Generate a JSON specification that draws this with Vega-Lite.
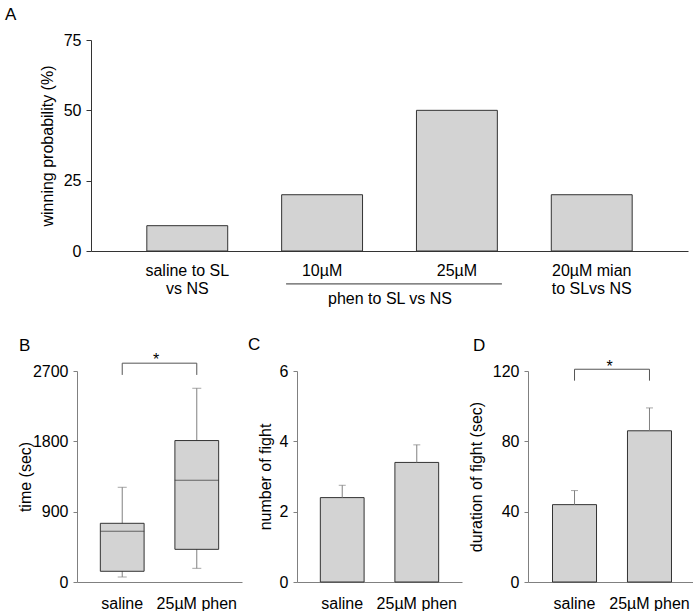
{
  "$schema": "https://vega.github.io/schema/vega-lite/v6.json",
  "padding": {"left": 5, "top": 6, "right": 0, "bottom": 0},
  "spacing": 30,
  "config": {
    "font": "Liberation Sans",
    "view": {"stroke": null},
    "axis": {
      "grid": false,
      "labelFont": "Liberation Sans",
      "titleFont": "Liberation Sans",
      "labelFontSize": 16,
      "titleFontSize": 16,
      "titleFontWeight": "normal",
      "labelColor": "#000",
      "titleColor": "#000",
      "domainColor": "#808080",
      "tickColor": "#808080"
    },
    "title": {
      "font": "Liberation Sans",
      "fontSize": 17,
      "fontWeight": "normal",
      "anchor": "start",
      "frame": "group",
      "baseline": "alphabetic",
      "color": "#000"
    }
  },
  "vconcat": [
    {
      "title": {"text": "A", "dx": -72, "offset": 8},
      "width": 611,
      "height": 211,
      "data": {"values": [
        {"group": "saline to SL vs NS", "win": 9},
        {"group": "10µM", "win": 20},
        {"group": "25µM", "win": 50},
        {"group": "20µM mian to SL vs NS", "win": 20}
      ]},
      "layer": [
        {
          "mark": {"type": "bar", "fill": "#d3d3d3", "stroke": "#333", "strokeWidth": 1},
          "encoding": {
            "x": {
              "field": "group", "type": "nominal",
              "scale": {"domain": ["saline to SL vs NS", "10µM", "25µM", "20µM mian to SL vs NS"], "range": [14, 611], "paddingInner": 0.4, "paddingOuter": 0.414},
              "axis": {
                "title": "phen to SL vs NS",
                "labelAngle": 0, "ticks": false, "labelPadding": 11, "labelLineHeight": 18,
                "labelExpr": "datum.value == 'saline to SL vs NS' ? ['saline to SL', 'vs NS'] : datum.value == '20µM mian to SL vs NS' ? ['20µM mian', 'to SLvs NS'] : datum.value",
                "domainColor": "#333", "titlePadding": -6
              }
            },
            "y": {
              "field": "win", "type": "quantitative",
              "scale": {"domain": [0, 75], "nice": false},
              "axis": {"title": "winning probability (%)", "values": [0, 25, 50, 75], "format": "d", "offset": -14, "tickSize": 5, "labelPadding": 5, "domainColor": "#333", "tickColor": "#333", "titlePadding": 8}
            }
          }
        },
        {
          "data": {"values": [{"from": "10µM", "to": "25µM"}]},
          "mark": {"type": "rule", "color": "#333", "xOffset": -36, "x2Offset": 45},
          "encoding": {
            "x": {"field": "from", "type": "nominal"},
            "x2": {"field": "to"},
            "y": {"datum": -11.7, "type": "quantitative"}
          }
        }
      ]
    },
    {
      "spacing": 6,
      "hconcat": [
        {
          "title": {"text": "B", "dx": -58, "offset": -3},
          "width": 165,
          "height": 211,
          "data": {"values": [
            {"group": "saline", "lower": 64, "q1": 137, "median": 649, "q3": 751, "upper": 1212},
            {"group": "25µM phen", "lower": 175, "q1": 418, "median": 1301, "q3": 1810, "upper": 2479}
          ]},
          "encoding": {
            "x": {
              "field": "group", "type": "nominal",
              "scale": {"domain": ["saline", "25µM phen"], "paddingInner": 0.413, "paddingOuter": 0.313},
              "axis": {"title": null, "labelAngle": 0, "ticks": false, "labelPadding": 13}
            }
          },
          "layer": [
            {
              "mark": {"type": "rule", "color": "#808080"},
              "encoding": {
                "y": {"field": "lower", "type": "quantitative", "scale": {"domain": [0, 2700], "nice": false},
                  "axis": {"title": "time (sec)", "values": [0, 900, 1800, 2700], "format": "d", "tickSize": 4, "labelPadding": 5, "titlePadding": -1}},
                "y2": {"field": "upper"}
              }
            },
            {"mark": {"type": "tick", "color": "#808080", "size": 9, "thickness": 1}, "encoding": {"y": {"field": "upper", "type": "quantitative"}}},
            {"mark": {"type": "tick", "color": "#808080", "size": 9, "thickness": 1}, "encoding": {"y": {"field": "lower", "type": "quantitative"}}},
            {
              "mark": {"type": "bar", "fill": "#d3d3d3", "stroke": "#333", "strokeWidth": 1},
              "encoding": {"y": {"field": "q1", "type": "quantitative"}, "y2": {"field": "q3"}}
            },
            {"mark": {"type": "tick", "color": "#333", "size": 44, "thickness": 1}, "encoding": {"y": {"field": "median", "type": "quantitative"}}},
            {
              "data": {"values": [{"from": "saline", "to": "25µM phen", "label": "*"}]},
              "layer": [
                {"mark": {"type": "rule", "color": "#555"}, "encoding": {"x": {"field": "from", "type": "nominal"}, "x2": {"field": "to"}, "y": {"datum": 2800, "type": "quantitative"}}},
                {"mark": {"type": "rule", "color": "#555"}, "encoding": {"x": {"field": "from", "type": "nominal"}, "y": {"datum": 2800, "type": "quantitative"}, "y2": {"datum": 2650}}},
                {"mark": {"type": "rule", "color": "#555"}, "encoding": {"x": {"field": "to", "type": "nominal"}, "y": {"datum": 2800, "type": "quantitative"}, "y2": {"datum": 2650}}},
                {"mark": {"type": "text", "fontSize": 16, "dx": 34, "dy": 2, "baseline": "alphabetic", "color": "#000"}, "encoding": {"x": {"field": "from", "type": "nominal"}, "y": {"datum": 2800, "type": "quantitative"}, "text": {"field": "label"}}}
              ]
            }
          ]
        },
        {
          "title": {"text": "C", "dx": -49, "offset": 9},
          "width": 165,
          "height": 211,
          "data": {"values": [
            {"group": "saline", "mean": 2.4, "hi": 2.75},
            {"group": "25µM phen", "mean": 3.4, "hi": 3.9}
          ]},
          "encoding": {
            "x": {
              "field": "group", "type": "nominal",
              "scale": {"domain": ["saline", "25µM phen"], "paddingInner": 0.413, "paddingOuter": 0.313},
              "axis": {"title": null, "labelAngle": 0, "ticks": false, "labelPadding": 13}
            }
          },
          "layer": [
            {
              "mark": {"type": "bar", "fill": "#d3d3d3", "stroke": "#333", "strokeWidth": 1},
              "encoding": {"y": {"field": "mean", "type": "quantitative", "scale": {"domain": [0, 6], "nice": false},
                "axis": {"title": "number of fight", "values": [0, 2, 4, 6], "tickSize": 4, "labelPadding": 5, "titlePadding": 6}}}
            },
            {"mark": {"type": "rule", "color": "#808080"}, "encoding": {"y": {"field": "mean", "type": "quantitative"}, "y2": {"field": "hi"}}},
            {"mark": {"type": "tick", "color": "#808080", "size": 7, "thickness": 1}, "encoding": {"y": {"field": "hi", "type": "quantitative"}}}
          ]
        },
        {
          "title": {"text": "D", "dx": -55, "offset": 4},
          "width": 168,
          "height": 211,
          "data": {"values": [
            {"group": "saline", "mean": 44, "hi": 52},
            {"group": "25µM phen", "mean": 86, "hi": 99}
          ]},
          "encoding": {
            "x": {
              "field": "group", "type": "nominal",
              "scale": {"domain": ["saline", "25µM phen"], "paddingInner": 0.413, "paddingOuter": 0.327},
              "axis": {"title": null, "labelAngle": 0, "ticks": false, "labelPadding": 13}
            }
          },
          "layer": [
            {
              "mark": {"type": "bar", "fill": "#d3d3d3", "stroke": "#333", "strokeWidth": 1},
              "encoding": {"y": {"field": "mean", "type": "quantitative", "scale": {"domain": [0, 120], "nice": false},
                "axis": {"title": "duration of fight (sec)", "values": [0, 40, 80, 120], "tickSize": 4, "labelPadding": 5, "titlePadding": 8}}}
            },
            {"mark": {"type": "rule", "color": "#808080"}, "encoding": {"y": {"field": "mean", "type": "quantitative"}, "y2": {"field": "hi"}}},
            {"mark": {"type": "tick", "color": "#808080", "size": 7, "thickness": 1}, "encoding": {"y": {"field": "hi", "type": "quantitative"}}},
            {
              "data": {"values": [{"from": "saline", "to": "25µM phen", "label": "*"}]},
              "layer": [
                {"mark": {"type": "rule", "color": "#555"}, "encoding": {"x": {"field": "from", "type": "nominal"}, "x2": {"field": "to"}, "y": {"datum": 121, "type": "quantitative"}}},
                {"mark": {"type": "rule", "color": "#555"}, "encoding": {"x": {"field": "from", "type": "nominal"}, "y": {"datum": 121, "type": "quantitative"}, "y2": {"datum": 114.5}}},
                {"mark": {"type": "rule", "color": "#555"}, "encoding": {"x": {"field": "to", "type": "nominal"}, "y": {"datum": 121, "type": "quantitative"}, "y2": {"datum": 114.5}}},
                {"mark": {"type": "text", "fontSize": 16, "dx": 35, "dy": 3, "baseline": "alphabetic", "color": "#000"}, "encoding": {"x": {"field": "from", "type": "nominal"}, "y": {"datum": 121, "type": "quantitative"}, "text": {"field": "label"}}}
              ]
            }
          ]
        }
      ]
    }
  ]
}
